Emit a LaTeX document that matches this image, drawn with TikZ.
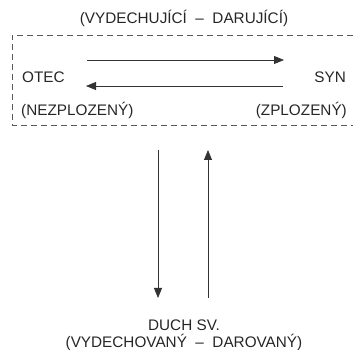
\documentclass[tikz,border=0pt]{standalone}
\usepackage{fontspec}
\setmainfont{Liberation Sans}
\usetikzlibrary{arrows.meta}
\begin{document}
\begin{tikzpicture}[x=1pt,y=-1pt,
  lbl/.style={inner sep=0pt,font=\fontsize{15.3}{17}\selectfont,text=black!85},
  flow/.style={line width=0.8pt,draw=black!80,-{Triangle[length=10pt,width=8pt]}},
  frame/.style={line width=0.8pt,draw=black!65,dash pattern=on 6pt off 4pt}]
\useasboundingbox (0,0) rectangle (357,350);
% title above the dashed frame
\node[lbl] (title) at (184,18) {(VYDECHUJÍCÍ\ \ –\ \ DARUJÍCÍ)};
% open dashed frame around Father and Son
\draw[frame] (353,35) -- (12,35) -- (12,125) -- (353,125);
% Father and Son
\node[lbl,anchor=west] (otec) at (22,77) {OTEC};
\node[lbl,anchor=east] (syn) at (346,77) {SYN};
\node[lbl,anchor=west] (otecsub) at (21,110) {(NEZPLOZENÝ)};
\node[lbl,anchor=east] (synsub) at (347,110) {(ZPLOZENÝ)};
% horizontal arrow endpoints
\coordinate (hl1) at (87,60);
\coordinate (hr1) at (284,60);
\coordinate (hl2) at (86,86);
\coordinate (hr2) at (283,86);
\draw[flow] (hl1) -- (hr1);
\draw[flow] (hr2) -- (hl2);
% vertical arrow endpoints
\coordinate (vd1) at (158,150);
\coordinate (vd2) at (158,298);
\coordinate (vu1) at (208,298);
\coordinate (vu2) at (208,150);
\draw[flow] (vd1) -- (vd2);
\draw[flow] (vu1) -- (vu2);
% Holy Spirit
\node[lbl] (duch) at (184,325) {DUCH SV.};
\node[lbl] (duchsub) at (184,342) {(VYDECHOVANÝ\ \ –\ \ DAROVANÝ)};
\end{tikzpicture}
\end{document}
